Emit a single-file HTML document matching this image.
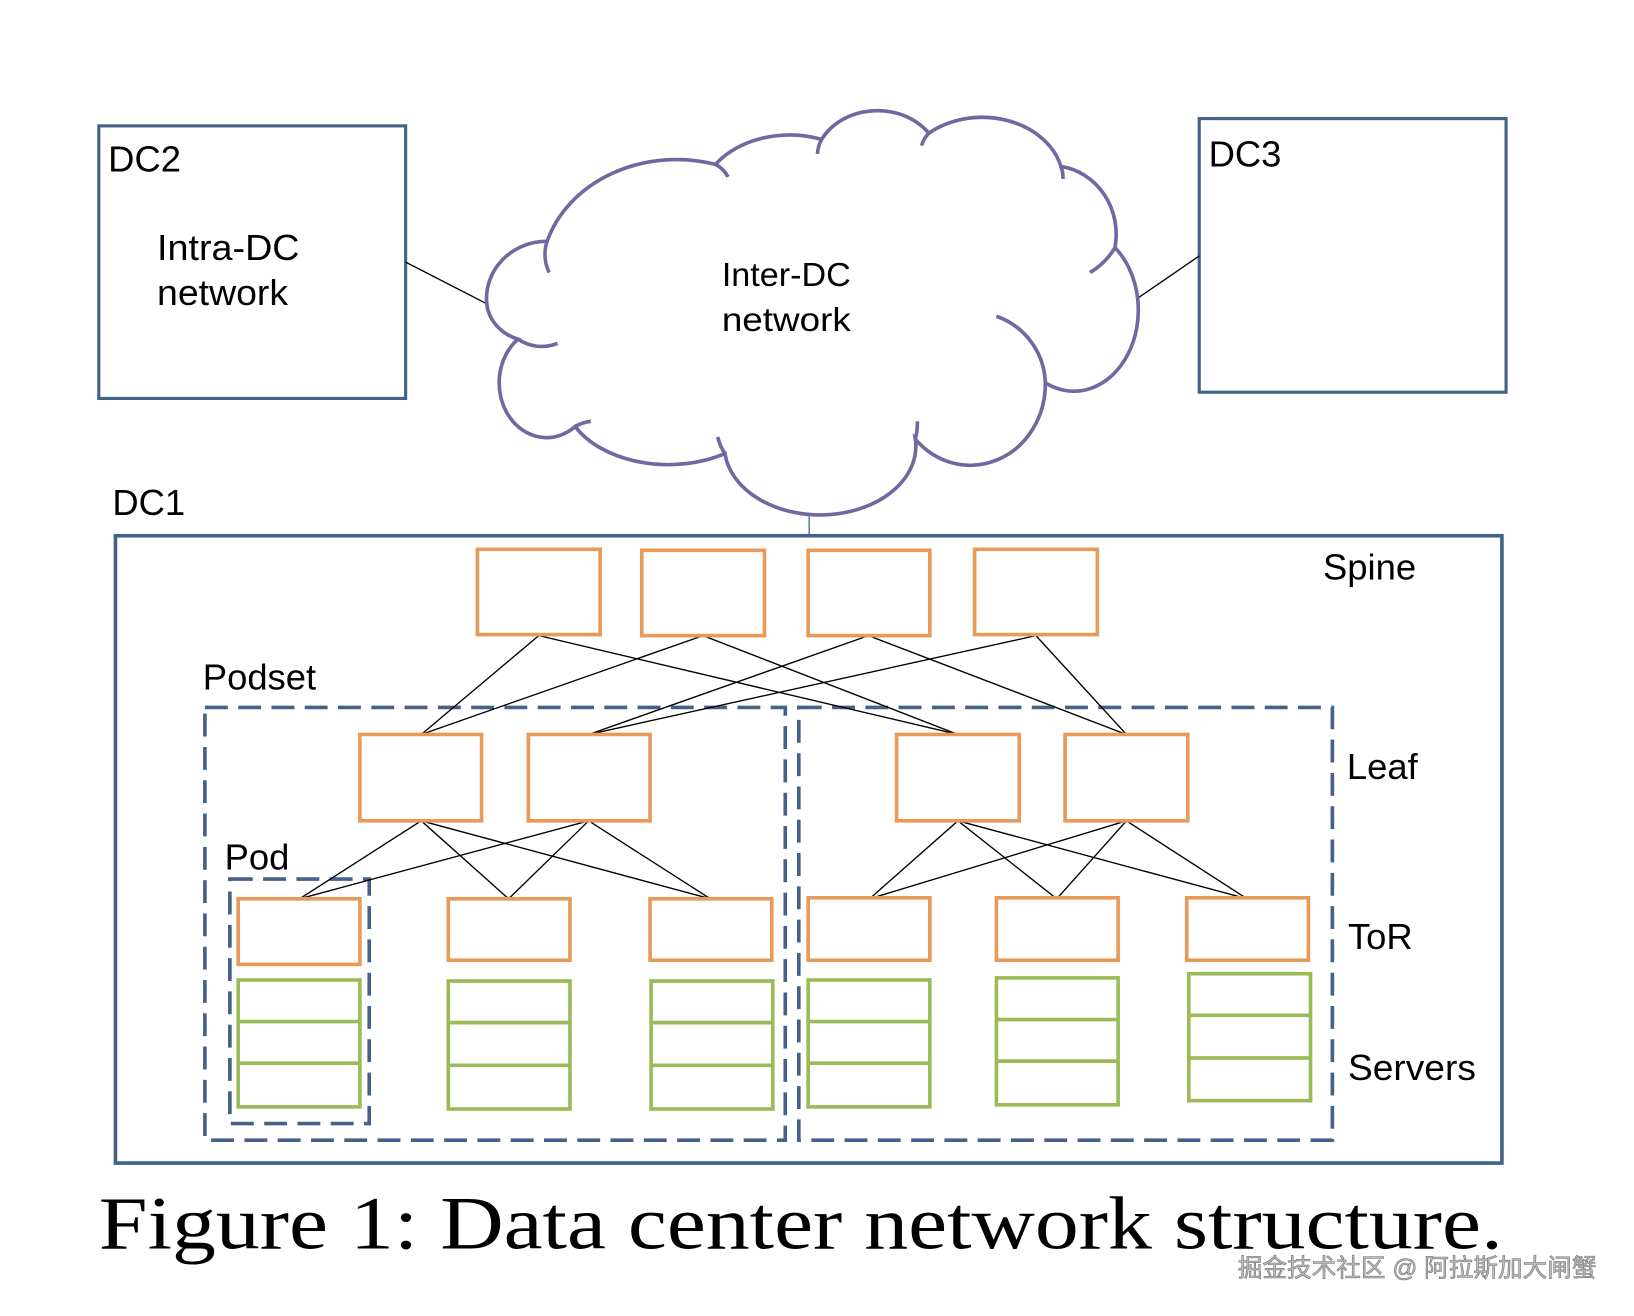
<!DOCTYPE html>
<html><head><meta charset="utf-8"><style>html,body{margin:0;padding:0;background:#fff}svg{display:block}</style></head>
<body>
<svg width="1634" height="1316" viewBox="0 0 1571 1265" preserveAspectRatio="none" xmlns="http://www.w3.org/2000/svg" font-family="Liberation Sans, sans-serif">
<rect width="1571" height="1265" fill="#fff"/>
<rect x="95" y="121" width="295" height="262" fill="none" stroke="#44618a" stroke-width="3"/>
<rect x="1153" y="114" width="295" height="263" fill="none" stroke="#44618a" stroke-width="3"/>
<text x="104" y="165" font-size="35">DC2</text>
<text x="151" y="250" font-size="35" textLength="137" lengthAdjust="spacingAndGlyphs">Intra-DC</text>
<text x="151" y="293" font-size="35" textLength="126" lengthAdjust="spacingAndGlyphs">network</text>
<text x="1162" y="160" font-size="35">DC3</text>
<line x1="390" y1="252" x2="470" y2="293" stroke="#000" stroke-width="1.3"/>
<line x1="1086" y1="292" x2="1153" y2="246" stroke="#000" stroke-width="1.3"/>
<line x1="778" y1="480" x2="778" y2="515" stroke="#5b7fb0" stroke-width="1.5"/>
<path d="M468,292 A58,55 0 0 1 526,232 A130,110 0 0 1 688,158 A85,62 0 0 1 790,134 A60,50 0 0 1 893,128 A78,62 0 0 1 1020,160 A62,66 0 0 1 1072,238 A62,78 0 0 1 1005,368 A72,78 0 0 1 880,422 A92,66 0 0 1 697,436 A100,66 0 0 1 553,410 A45,52 0 0 1 498,326 A45,40 0 0 1 468,292 Z" fill="#fff" stroke="#7466a0" stroke-width="3.5"/>
<path d="M1048,262 A70,70 0 0 0 1072,238 M958,304 A70,70 0 0 1 1005,368 M880,422 A60,60 0 0 0 882,405 M697,436 A50,50 0 0 1 690,420 M553,410 A40,40 0 0 1 568,405 M498,326 A40,40 0 0 0 536,330 M526,232 A40,40 0 0 0 528,262 M688,158 A30,30 0 0 1 700,170 M790,134 A30,30 0 0 0 786,148 M893,128 A30,30 0 0 0 886,140 M1020,160 A30,30 0 0 1 1022,172" fill="none" stroke="#7466a0" stroke-width="3.5"/>
<text x="694" y="275" font-size="32" textLength="124" lengthAdjust="spacingAndGlyphs">Inter-DC</text>
<text x="694" y="318" font-size="32" textLength="124" lengthAdjust="spacingAndGlyphs">network</text>
<text x="108" y="495" font-size="35">DC1</text>
<rect x="111" y="515" width="1333" height="603" fill="none" stroke="#44618a" stroke-width="3.5"/>
<text x="1272" y="557" font-size="35">Spine</text>
<text x="195" y="663" font-size="35">Podset</text>
<text x="1295" y="749" font-size="35">Leaf</text>
<text x="216" y="836" font-size="35">Pod</text>
<text x="1296" y="912" font-size="35">ToR</text>
<text x="1296" y="1038" font-size="35" textLength="123" lengthAdjust="spacingAndGlyphs">Servers</text>
<g fill="none" stroke="#44618a" stroke-width="3.5" stroke-dasharray="22,10">
<rect x="197" y="680" width="558" height="416"/>
<rect x="768" y="680" width="513" height="416"/>
<rect x="221" y="845" width="134" height="235"/>
</g>
<g stroke="#000" stroke-width="1.3">
<line x1="518" y1="611" x2="405" y2="706"/><line x1="518" y1="611" x2="921" y2="706"/>
<line x1="676" y1="611" x2="405" y2="706"/><line x1="676" y1="611" x2="921" y2="706"/>
<line x1="835" y1="611" x2="566" y2="706"/><line x1="835" y1="611" x2="1083" y2="706"/>
<line x1="996" y1="611" x2="566" y2="706"/><line x1="996" y1="611" x2="1083" y2="706"/>
<line x1="405" y1="789" x2="288" y2="864"/><line x1="405" y1="789" x2="489" y2="864"/><line x1="405" y1="789" x2="683" y2="864"/>
<line x1="566" y1="789" x2="288" y2="864"/><line x1="566" y1="789" x2="489" y2="864"/><line x1="566" y1="789" x2="683" y2="864"/>
<line x1="921" y1="789" x2="836" y2="864"/><line x1="921" y1="789" x2="1016" y2="864"/><line x1="921" y1="789" x2="1199" y2="864"/>
<line x1="1083" y1="789" x2="836" y2="864"/><line x1="1083" y1="789" x2="1016" y2="864"/><line x1="1083" y1="789" x2="1199" y2="864"/>
</g>
<g fill="#fff" stroke="#e89a58" stroke-width="3.5">
<rect x="459" y="528" width="118" height="82"/><rect x="617" y="529" width="118" height="82"/><rect x="777" y="529" width="117" height="82"/><rect x="937" y="528" width="118" height="82"/>
<rect x="346" y="706" width="117" height="83"/><rect x="508" y="706" width="117" height="83"/><rect x="862" y="706" width="118" height="83"/><rect x="1024" y="706" width="118" height="83"/>
<rect x="229" y="864" width="117" height="63"/><rect x="431" y="864" width="117" height="59"/><rect x="625" y="864" width="117" height="59"/>
<rect x="777" y="863" width="117" height="60"/><rect x="958" y="863" width="117" height="60"/><rect x="1141" y="863" width="117" height="60"/>
</g>
<g fill="none" stroke="#9bbb59" stroke-width="3.5">
<rect x="229" y="942" width="117" height="122"/><line x1="229" y1="982" x2="346" y2="982"/><line x1="229" y1="1022" x2="346" y2="1022"/>
<rect x="431" y="943" width="117" height="123"/><line x1="431" y1="983" x2="548" y2="983"/><line x1="431" y1="1024" x2="548" y2="1024"/>
<rect x="626" y="943" width="117" height="123"/><line x1="626" y1="983" x2="743" y2="983"/><line x1="626" y1="1024" x2="743" y2="1024"/>
<rect x="777" y="942" width="117" height="122"/><line x1="777" y1="982" x2="894" y2="982"/><line x1="777" y1="1022" x2="894" y2="1022"/>
<rect x="958" y="940" width="117" height="122"/><line x1="958" y1="980" x2="1075" y2="980"/><line x1="958" y1="1020" x2="1075" y2="1020"/>
<rect x="1143" y="936" width="117" height="122"/><line x1="1143" y1="976" x2="1260" y2="976"/><line x1="1143" y1="1017" x2="1260" y2="1017"/>
</g>
<text x="95" y="1200" font-family="Liberation Serif, serif" font-size="72" textLength="1350" lengthAdjust="spacingAndGlyphs">Figure 1: Data center network structure.</text>
<text x="1190" y="1227" font-family="Liberation Sans, Noto Sans CJK SC, sans-serif" font-size="24" fill="#bbb" stroke="#777" stroke-width="0.6" textLength="345" lengthAdjust="spacingAndGlyphs">掘金技术社区 @ 阿拉斯加大闸蟹</text>
</svg>
</body></html>
